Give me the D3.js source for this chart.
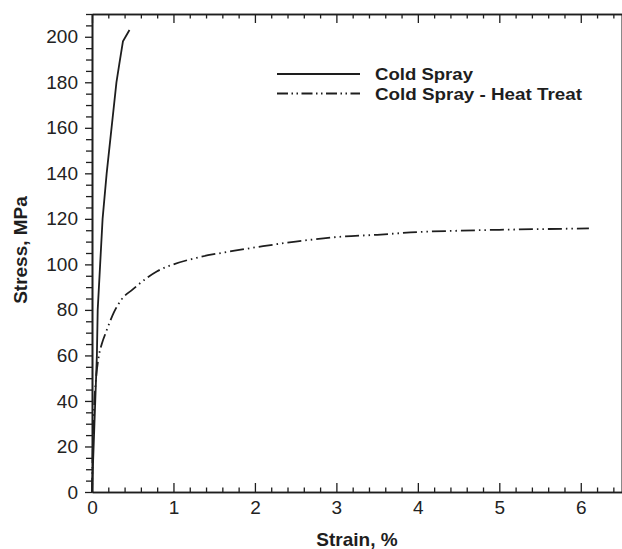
<!DOCTYPE html>
<html>
<head>
<meta charset="utf-8">
<script src="https://cdn.jsdelivr.net/npm/d3@7"></script>
<style>
  body { margin: 0; background: #fff; }
  svg { display: block; font-family: "Liberation Sans", Arial, sans-serif; }
</style>
</head>
<body>
<script>
// Cold Spray (solid)
const coldStrain = [0, 0.01, 0.02, 0.03, 0.04, 0.06, 0.07, 0.10, 0.13, 0.18, 0.24, 0.30, 0.335, 0.38, 0.46]
const coldStress = [0, 10, 20, 30, 40, 60, 80, 100, 120, 140, 160, 180, 188, 198, 203]

// Cold Spray - Heat Treat (dash-dot-dot)
const heatStrain = [0, 0.01, 0.03, 0.05, 0.085, 0.12, 0.18, 0.27, 0.36, 0.5, 0.6, 0.8, 1.0, 1.3, 1.75, 2.1, 2.5, 3.0, 3.5, 4.0, 4.5, 5.0, 5.5, 6.1]
const heatStress = [0, 20, 40, 50, 60, 65, 71, 79, 84.5, 89, 92, 97, 100, 103, 106, 108, 110, 112, 113, 114.2, 114.8, 115.2, 115.5, 115.8]

const xTicks = [0, 1, 2, 3, 4, 5, 6]
const yTicks = [0, 20, 40, 60, 80, 100, 120, 140, 160, 180, 200]
const legendLabels = ['Cold Spray', 'Cold Spray - Heat Treat']

const width = 622
const height = 549
const margin = { top: 14, right: 0.5, bottom: 57, left: 92 }
const ink = '#1e1e1e'
const dashDot = '14,4,1.5,4,1.5,4'

const svg = d3.select('body')
  .append('svg')
  .attr('width', width)
  .attr('height', height)

const x = d3.scaleLinear()
  .domain([0, 6.5])
  .range([margin.left, width - margin.right])

const y = d3.scaleLinear()
  .domain([0, 210])
  .range([height - margin.bottom, margin.top])

const x0 = margin.left
const yB = height - margin.bottom

// right border
svg.append('line')
  .attr('x1', x(6.5)).attr('x2', x(6.5))
  .attr('y1', y(210)).attr('y2', y(0))
  .attr('stroke', '#8a8a8a')
  .attr('stroke-width', 1)

// minor ticks
const xMinor = d3.range(0, 6.51, 0.2).filter(v => Math.abs(v - Math.round(v)) > 1e-6)
const yMinor = d3.range(0, 211, 5).filter(v => v % 20 !== 0)

const styleAxis = (g) => {
  g.selectAll('path').attr('stroke', ink).attr('stroke-width', 1.6)
  g.selectAll('line').attr('stroke', ink).attr('stroke-width', 1.3)
  g.selectAll('text').attr('fill', '#222').attr('font-size', 19)
}

// bottom axis, inward ticks
svg.append('g')
  .attr('transform', `translate(0, ${yB})`)
  .call(d3.axisBottom(x).tickValues(xMinor).tickSize(-4.5).tickSizeOuter(0).tickFormat(''))
  .call(styleAxis)

svg.append('g')
  .attr('transform', `translate(0, ${yB})`)
  .call(d3.axisBottom(x).tickValues(xTicks).tickSize(-9).tickSizeOuter(0).tickPadding(9).tickFormat(d3.format('d')))
  .call(styleAxis)

// top axis, inward ticks
svg.append('g')
  .attr('transform', `translate(0, ${margin.top})`)
  .call(d3.axisTop(x).tickValues(xMinor).tickSize(-4.5).tickSizeOuter(0).tickFormat(''))
  .call(styleAxis)

svg.append('g')
  .attr('transform', `translate(0, ${margin.top})`)
  .call(d3.axisTop(x).tickValues(xTicks).tickSize(-9).tickSizeOuter(0).tickFormat(''))
  .call(styleAxis)

// left axis, outward ticks
svg.append('g')
  .attr('transform', `translate(${x0}, 0)`)
  .call(d3.axisLeft(y).tickValues(yMinor).tickSize(6).tickSizeOuter(0).tickFormat(''))
  .call(styleAxis)

svg.append('g')
  .attr('transform', `translate(${x0}, 0)`)
  .call(d3.axisLeft(y).tickValues(yTicks).tickSize(7).tickSizeOuter(0).tickPadding(7).tickFormat(d3.format('d')))
  .call(styleAxis)

// curves
const line = d3.line()
  .x(d => x(d[0]))
  .y(d => y(d[1]))

svg.append('path')
  .datum(d3.zip(coldStrain, coldStress))
  .attr('fill', 'none')
  .attr('stroke', ink)
  .attr('stroke-width', 1.8)
  .attr('d', line)

svg.append('path')
  .datum(d3.zip(heatStrain, heatStress))
  .attr('fill', 'none')
  .attr('stroke', ink)
  .attr('stroke-width', 1.8)
  .attr('stroke-dasharray', dashDot)
  .attr('d', line.curve(d3.curveMonotoneX))

// legend
const legend = svg.append('g')
const legendWidths = [98, 207]
legendLabels.forEach((label, i) => {
  const ly = 74 + i * 19.5
  legend.append('line')
    .attr('x1', 277).attr('x2', 360)
    .attr('y1', ly).attr('y2', ly)
    .attr('stroke', ink)
    .attr('stroke-width', 1.8)
    .attr('stroke-dasharray', i === 0 ? null : '11,3.5,1.5,3.5,1.5,3.5')
  legend.append('text')
    .attr('x', 375)
    .attr('y', ly + 6)
    .attr('font-size', 17)
    .attr('font-weight', 'bold')
    .attr('fill', ink)
    .attr('textLength', legendWidths[i])
    .attr('lengthAdjust', 'spacingAndGlyphs')
    .text(label)
})

// axis titles
svg.append('text')
  .attr('x', 357)
  .attr('y', 546)
  .attr('text-anchor', 'middle')
  .attr('font-size', 19)
  .attr('font-weight', 'bold')
  .attr('fill', ink)
  .text('Strain, %')

svg.append('text')
  .attr('transform', 'rotate(-90)')
  .attr('x', -250)
  .attr('y', 27)
  .attr('text-anchor', 'middle')
  .attr('font-size', 19)
  .attr('font-weight', 'bold')
  .attr('fill', ink)
  .text('Stress, MPa')
</script>
</body>
</html>
